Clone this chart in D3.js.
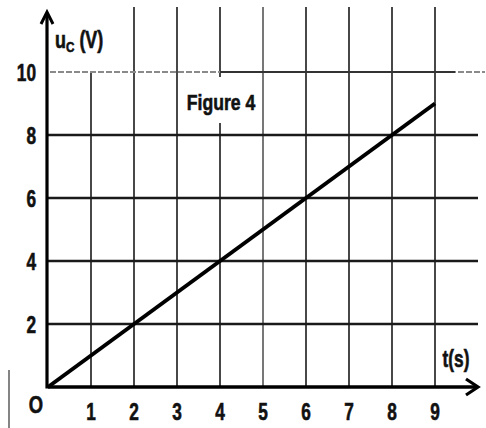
<!DOCTYPE html>
<html><head><meta charset="utf-8">
<script src="https://cdn.jsdelivr.net/npm/d3@7"></script>
<style>
html,body{margin:0;padding:0;background:#fff;}
svg{display:block;}
text{font-family:"Liberation Sans",Arial,sans-serif;font-weight:bold;fill:#111;stroke:#111;stroke-width:0.6px;}
</style></head>
<body>
<script>
const tValues = [0, 1, 2, 3, 4, 5, 6, 7, 8, 9];
const uValues = [0, 1, 2, 3, 4, 5, 6, 7, 8, 9];
const xTicks = [1, 2, 3, 4, 5, 6, 7, 8, 9];
const yTicks = [2, 4, 6, 8, 10];
const xLabel = "t(s)";
const yLabel = "u";
const yLabelSub = "C";
const yLabelUnit = " (V)";
const title = "Figure 4";

const W = 486, H = 428;
const svg = d3.select("body").append("svg").attr("width", W).attr("height", H);

const x = d3.scaleLinear().domain([0, 9]).range([48, 435]);
const y = d3.scaleLinear().domain([0, 10]).range([387, 72]);

// vertical grid lines (x=1 starts at the top grid line; x=4 broken around the title)
const vSegs = [];
xTicks.forEach(d => {
  if (d === 1) vSegs.push({ t: d, y1: y(10), y2: y(0) });
  else if (d === 4) { vSegs.push({ t: d, y1: 7, y2: 77 }); vSegs.push({ t: d, y1: 123, y2: y(0) }); }
  else vSegs.push({ t: d, y1: 7, y2: y(0) });
});
svg.append("g").selectAll("line").data(vSegs).join("line")
  .attr("x1", d => x(d.t)).attr("x2", d => x(d.t))
  .attr("y1", d => d.y1).attr("y2", d => d.y2)
  .attr("stroke", d => d.t === 5 ? "#555" : "#1a1a1a").attr("stroke-width", 1.6);

// horizontal grid lines
svg.append("g").selectAll("line").data(yTicks.filter(d => d !== 10)).join("line")
  .attr("x1", x(0)).attr("x2", 478)
  .attr("y1", d => y(d)).attr("y2", d => y(d))
  .attr("stroke", "#1a1a1a").attr("stroke-width", 2.4);
// top grid line: grey dashed, darker in the middle-right
svg.append("line").attr("x1", x(0) + 2).attr("x2", 485).attr("y1", y(10)).attr("y2", y(10))
  .attr("stroke", "#8a8a8a").attr("stroke-dasharray", "6,2").attr("stroke-width", 1.8);
svg.append("line").attr("x1", x(4)).attr("x2", x(9) + 20).attr("y1", y(10)).attr("y2", y(10))
  .attr("stroke", "#333").attr("stroke-width", 2);

// axes
svg.append("line").attr("x1", x(0)).attr("x2", 476).attr("y1", y(0)).attr("y2", y(0))
  .attr("stroke", "#000").attr("stroke-width", 3.5);
svg.append("line").attr("x1", x(0) - 1).attr("x2", x(0) - 1).attr("y1", y(0) + 1.5).attr("y2", 13)
  .attr("stroke", "#000").attr("stroke-width", 3.2);
// arrowheads
svg.append("path").attr("d", `M${x(0)-7},24 L${x(0)-1},12 L${x(0)+5},24`)
  .attr("fill", "none").attr("stroke", "#000").attr("stroke-width", 3).attr("stroke-linejoin", "miter");
svg.append("path").attr("d", `M466,${y(0)-8} L478,${y(0)} L466,${y(0)+8}`)
  .attr("fill", "none").attr("stroke", "#000").attr("stroke-width", 3.2);

// data line
const line = d3.line().x((d, i) => x(tValues[i])).y(d => y(d));
svg.append("path").datum(uValues).attr("d", line)
  .attr("fill", "none").attr("stroke", "#000").attr("stroke-width", 4).attr("stroke-linecap", "butt");

// condensed text helper
function ctext(g, px, py, size, sx, anchor) {
  return g.append("text")
    .attr("transform", `translate(${px},${py}) scale(${sx},1)`)
    .attr("font-size", size).attr("text-anchor", anchor || "start");
}

// tick labels
const gx = svg.append("g");
xTicks.forEach(d => ctext(gx, x(d), 420, 24, 0.72, "middle").text(d));
const gy = svg.append("g");
yTicks.forEach(d => ctext(gy, 36, y(d) + 9, 24, 0.72, "end").text(d));
ctext(svg, 36, 413, 23, 0.8, "middle").text("O");

// axis labels
const yl = ctext(svg, 55, 48, 23, 0.78, "start");
yl.append("tspan").text(yLabel);
yl.append("tspan").attr("font-size", 15).attr("dy", 4).text(yLabelSub);
yl.append("tspan").attr("dy", -4).text(yLabelUnit);
ctext(svg, 456, 367, 23, 0.75, "middle").text(xLabel);

// title
ctext(svg, 221, 110, 22, 0.8, "middle").text(title);

// scan edge artifact
svg.append("line").attr("x1", 9).attr("x2", 9).attr("y1", 370).attr("y2", 428)
  .attr("stroke", "#333").attr("stroke-width", 1.2);
</script>
</body></html>
